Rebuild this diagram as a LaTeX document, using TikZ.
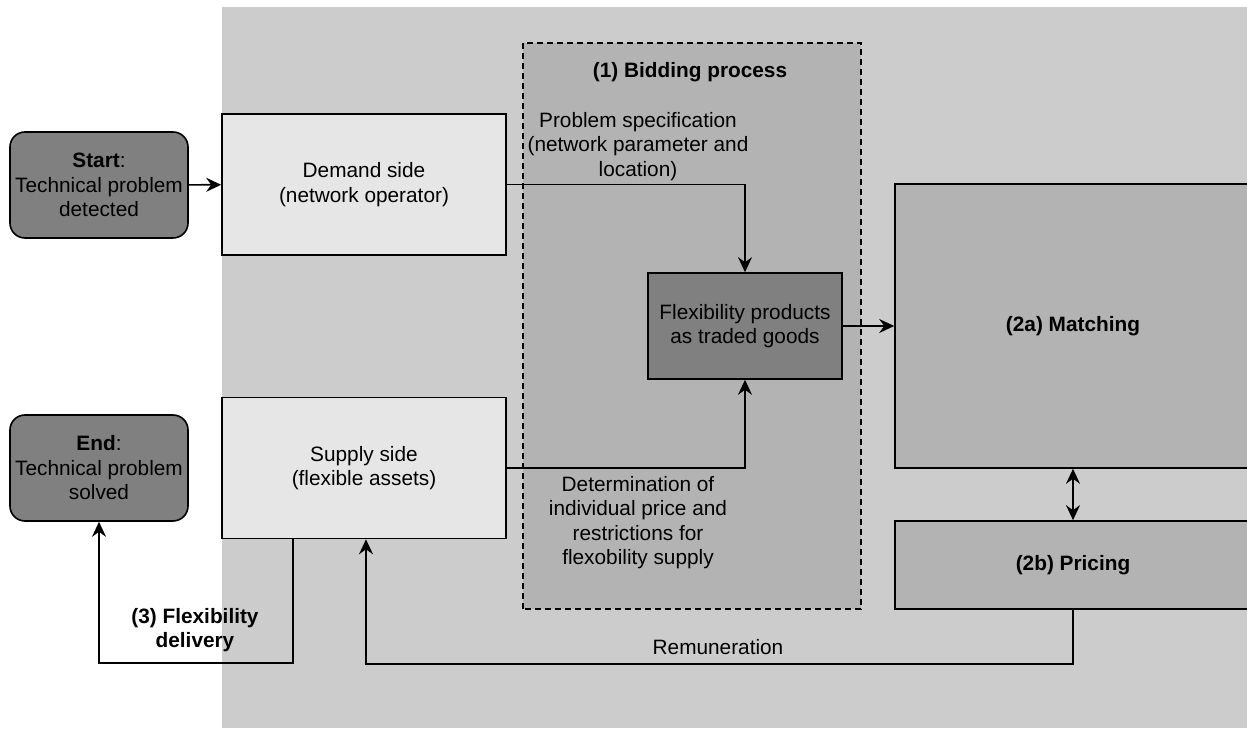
\documentclass[tikz,border=0pt]{standalone}
\usepackage{fontspec}
\setmainfont{Liberation Sans}
\usepackage{tikz}
\usetikzlibrary{arrows.meta}

\definecolor{areagray}{HTML}{CCCCCC}
\definecolor{bidgray}{HTML}{B3B3B3}
\definecolor{lightgray}{HTML}{E6E6E6}
\definecolor{darkgray}{HTML}{808080}

\begin{document}
\begin{tikzpicture}[x=1pt, y=1pt,
        font=\fontsize{20.8}{24.5}\selectfont,
        box/.style={draw=black, line width=1.6pt, inner sep=0pt, align=center},
        termbox/.style={box, fill=darkgray, rounded corners=15pt, minimum width=178pt, minimum height=106pt},
        sidebox/.style={box, fill=lightgray, minimum width=284pt, minimum height=141pt},
        marketbox/.style={box, fill=bidgray, minimum width=356pt, font=\fontsize{20.8}{24.5}\selectfont\bfseries},
        lbl/.style={inner sep=0pt, align=center},
        conn/.style={line width=1.6pt, -{Stealth[length=15pt, width=14pt, inset=5pt]}}]
        \useasboundingbox (0,0) rectangle (1247,728);
        
        \fill [areagray] (222,0) rectangle (1260,721);
        \draw [black, line width=1.3pt, dash pattern=on 6pt off 4pt, fill=bidgray] (523,119) rectangle (861,685);
        \node [lbl, font=\fontsize{20.8}{24.5}\selectfont\bfseries] (bidding) at (690,656) {(1) Bidding process};
        
        \node [termbox] (start) at (99,543) {\textbf{Start}:\\Technical problem\\detected};
        \node [termbox] (end) at (99,260) {\textbf{End}:\\Technical problem\\solved};
        \node [sidebox] (demand) at (364,543.5) {Demand side\\(network operator)};
        \node [sidebox] (supply) at (364,260) {Supply side\\(flexible assets)};
        \node [box, fill=darkgray, minimum width=194pt, minimum height=106pt] (products) at (745,402) {Flexibility products\\as traded goods};
        \node [marketbox, minimum height=284pt] (matching) at (1073,402) {(2a) Matching};
        \node [marketbox, minimum height=88pt] (pricing) at (1073,163) {(2b) Pricing};
        
        \node [lbl, anchor=south] (spec) at (638,547) {Problem specification\\(network parameter and\\location)};
        \node [lbl, anchor=north] (determ) at (638,252) {Determination of\\individual price and\\restrictions for\\flexobility supply};
        \node [lbl] (remun) at (718,81) {Remuneration};
        \node [lbl, font=\fontsize{20.8}{24.5}\selectfont\bfseries] (delivery) at (195,98) {(3) Flexibility\\delivery};
        
        \draw [conn] (start) -- (demand);
        \draw [conn] (demand.east) -| (products.north);
        \draw [conn] (supply.east) -| (products.south);
        \draw [conn] (products) -- (matching);
        \draw [conn, {Stealth[length=15pt, width=14pt, inset=5pt]}-{Stealth[length=15pt, width=14pt, inset=5pt]}] (matching.south) -- (pricing.north);
        \draw [conn] (pricing.south) -- ++(0,-54) -| ([xshift=2pt]supply.south);
        \draw [conn] ([xshift=-71pt]supply.south) -- ++(0,-124) -| (end.south);
\end{tikzpicture}
\end{document}
